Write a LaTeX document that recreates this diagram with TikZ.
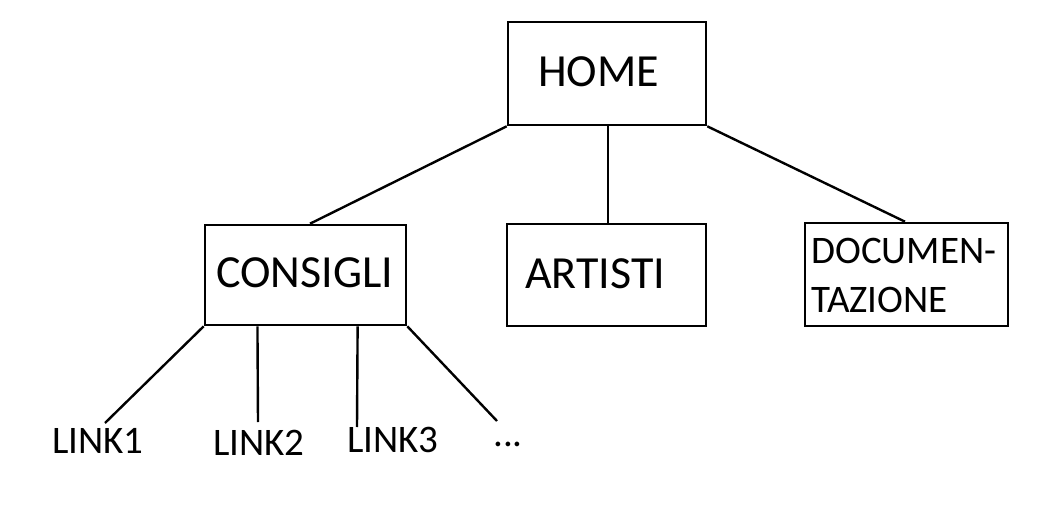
\documentclass[tikz,border=0pt]{standalone}
\usepackage{fontspec}
\setmainfont{Carlito}
\usetikzlibrary{calc}
\tikzset{
  box/.style={draw, line width=2.6pt, rectangle, inner sep=0pt},
  big/.style={inner sep=0pt, anchor=base west, font=\fontsize{46}{55}\selectfont},
  small/.style={inner sep=0pt, anchor=base west, font=\fontsize{39}{47}\selectfont},
  conn/.style={line width=2.4pt}
}
\begin{document}
\begin{tikzpicture}[x=1pt,y=-1pt]
\useasboundingbox[fill=white] (0,0) rectangle (1063,508);
% boxes
\node[box, minimum width=198pt, minimum height=103pt] (home) at (607,73.5) {};
\node[box, minimum width=201pt, minimum height=100pt] (consigli) at (305.5,275) {};
\node[box, minimum width=199pt, minimum height=102pt] (artisti) at (606.5,275) {};
\node[box, minimum width=203pt, minimum height=103pt] (doc) at (906.5,274.5) {};
% box texts
\node[big] (thome) at (538,87) {HOME};
\node[big] (tconsigli) at (216,287) {CONSIGLI};
\node[big] (tartisti) at (525,288) {ARTISTI};
\node[small] (tdoc1) at (811,263) {DOCUMEN-};
\node[small] (tdoc2) at (811,312) {TAZIONE};
% link texts
\node[small] (link1) at (52,453) {LINK1};
\node[small] (link2) at (213,455) {LINK2};
\node[small] (link3) at (347,452) {LINK3};
\node[small] (dots) at (493,446) {...};
% free ends of the link connectors
\coordinate (e1) at (105,423);
\coordinate (e2) at (258,422);
\coordinate (e3) at (357,427);
\coordinate (e4) at (497,421);
% connectors
\draw[conn] (home.south west) -- ($(consigli.north)+(4.5,0)$);
\draw[conn] ($(home.south)+(1,0)$) -- ($(artisti.north)+(1.5,0)$);
\draw[conn] (home.south east) -- ($(doc.north)+(-1.5,0)$);
\draw[conn] (consigli.south west) -- (e1);
\draw[conn] ($(consigli.south west)!0.264!(consigli.south east)$) -- (e2);
\draw[conn] ($(consigli.south west)!0.756!(consigli.south east)$) -- (e3);
\draw[conn] (consigli.south east) -- (e4);
\end{tikzpicture}
\end{document}
